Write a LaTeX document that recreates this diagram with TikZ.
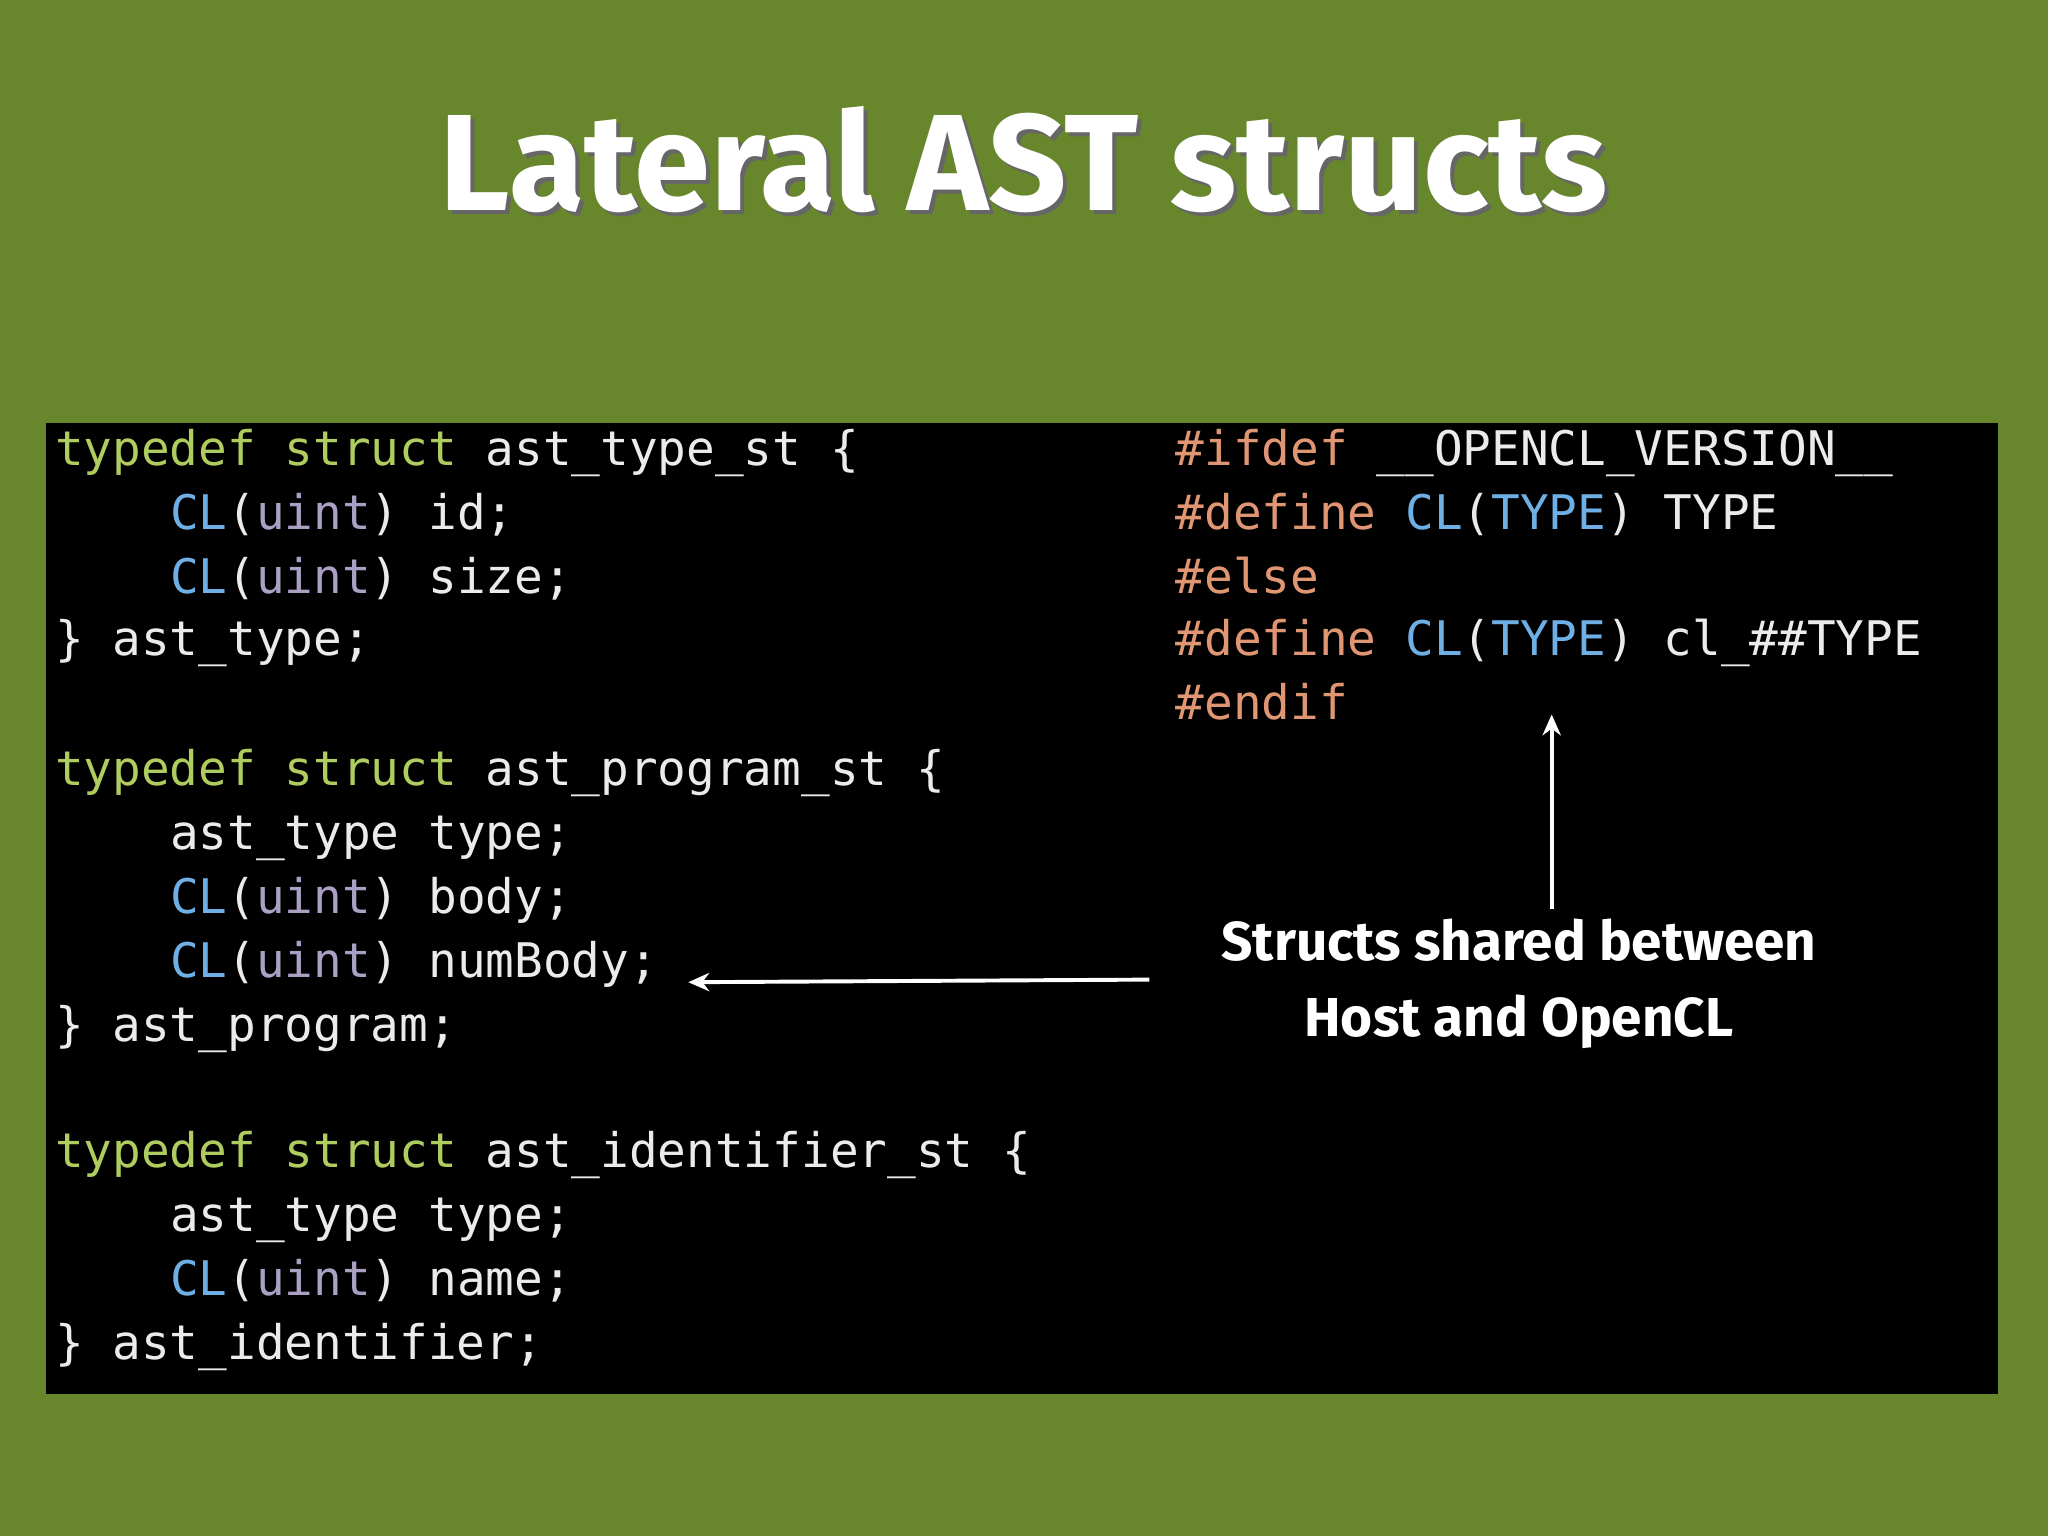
\documentclass[tikz,border=0pt]{standalone}
\usepackage{fontspec}
\usetikzlibrary{arrows.meta}
\setmonofont{DejaVu Sans Mono}
\setsansfont{Fira Sans}
\definecolor{bg}{RGB}{104,135,45}
\definecolor{kw}{RGB}{175,205,95}
\definecolor{clb}{RGB}{110,175,230}
\definecolor{ui}{RGB}{170,160,195}
\definecolor{pp}{RGB}{225,150,115}
\definecolor{tx}{RGB}{235,235,235}
\newcommand{\Kw}[1]{\textcolor{kw}{#1}}
\newcommand{\Cu}{\textcolor{clb}{CL}(\textcolor{ui}{uint})}
\newcommand{\Pp}[1]{\textcolor{pp}{#1}}
\newcommand{\Ty}{\textcolor{clb}{CL}(\textcolor{clb}{TYPE})}
\begin{document}
\begin{tikzpicture}[x=1pt,y=-1pt,
  code/.style={anchor=mid west,inner sep=0pt,text=tx,font=\ttfamily\fontsize{36.5}{40}\selectfont},
  lbl/.style={align=center,text=white,font=\sffamily\bfseries\fontsize{42}{58}\selectfont},
  arr/.style={draw=white,line width=3pt,-{Stealth[length=16pt,width=14pt]}}]
\fill[bg] (0,0) rectangle (1568,1176);
\useasboundingbox (0,0) rectangle (1568,1176);
\fill[black] (35,324) rectangle (1530,1067);
\node[text=black!60,font=\sffamily\bfseries\fontsize{105}{110}\selectfont] at (787,125) {Lateral AST structs};
\node (title) [text=white,font=\sffamily\bfseries\fontsize{105}{110}\selectfont] at (784,122) {Lateral AST structs};
\node (a1) [code] at (42,354) {\Kw{typedef struct} ast\_type\_st \{};
\node (a2) [code] at (130,403) {\Cu{} id;};
\node (a3) [code] at (130,452) {\Cu{} size;};
\node (a4) [code] at (42,500) {\} ast\_type;};
\node (b1) [code] at (42,599) {\Kw{typedef struct} ast\_program\_st \{};
\node (b2) [code] at (130,648) {ast\_type type;};
\node (b3) [code] at (130,697) {\Cu{} body;};
\node (b4) [code] at (130,746) {\Cu{} numBody;};
\node (b5) [code] at (42,795) {\} ast\_program;};
\node (c1) [code] at (42,892) {\Kw{typedef struct} ast\_identifier\_st \{};
\node (c2) [code] at (130,941) {ast\_type type;};
\node (c3) [code] at (130,990) {\Cu{} name;};
\node (c4) [code] at (42,1039) {\} ast\_identifier;};
\node (d1) [code] at (900,354) {\Pp{\#ifdef} \_\_OPENCL\_VERSION\_\_};
\node (d2) [code] at (900,403) {\Pp{\#define} \Ty{} TYPE};
\node (d3) [code] at (900,452) {\Pp{\#else}};
\node (d4) [code] at (900,500) {\Pp{\#define} \Ty{} cl\_\#\#TYPE};
\node (d5) [code] at (900,549) {\Pp{\#endif}};
\node (lab) [lbl] at (1163,753) {Structs shared between\\Host and OpenCL};
\coordinate (s1) at (880,750);
\coordinate (e1) at (527,752);
\draw[arr] (s1) -- (e1);
\coordinate (s2) at (1188,696);
\coordinate (e2) at (1188,547);
\draw[arr] (s2) -- (e2);
\end{tikzpicture}
\end{document}
